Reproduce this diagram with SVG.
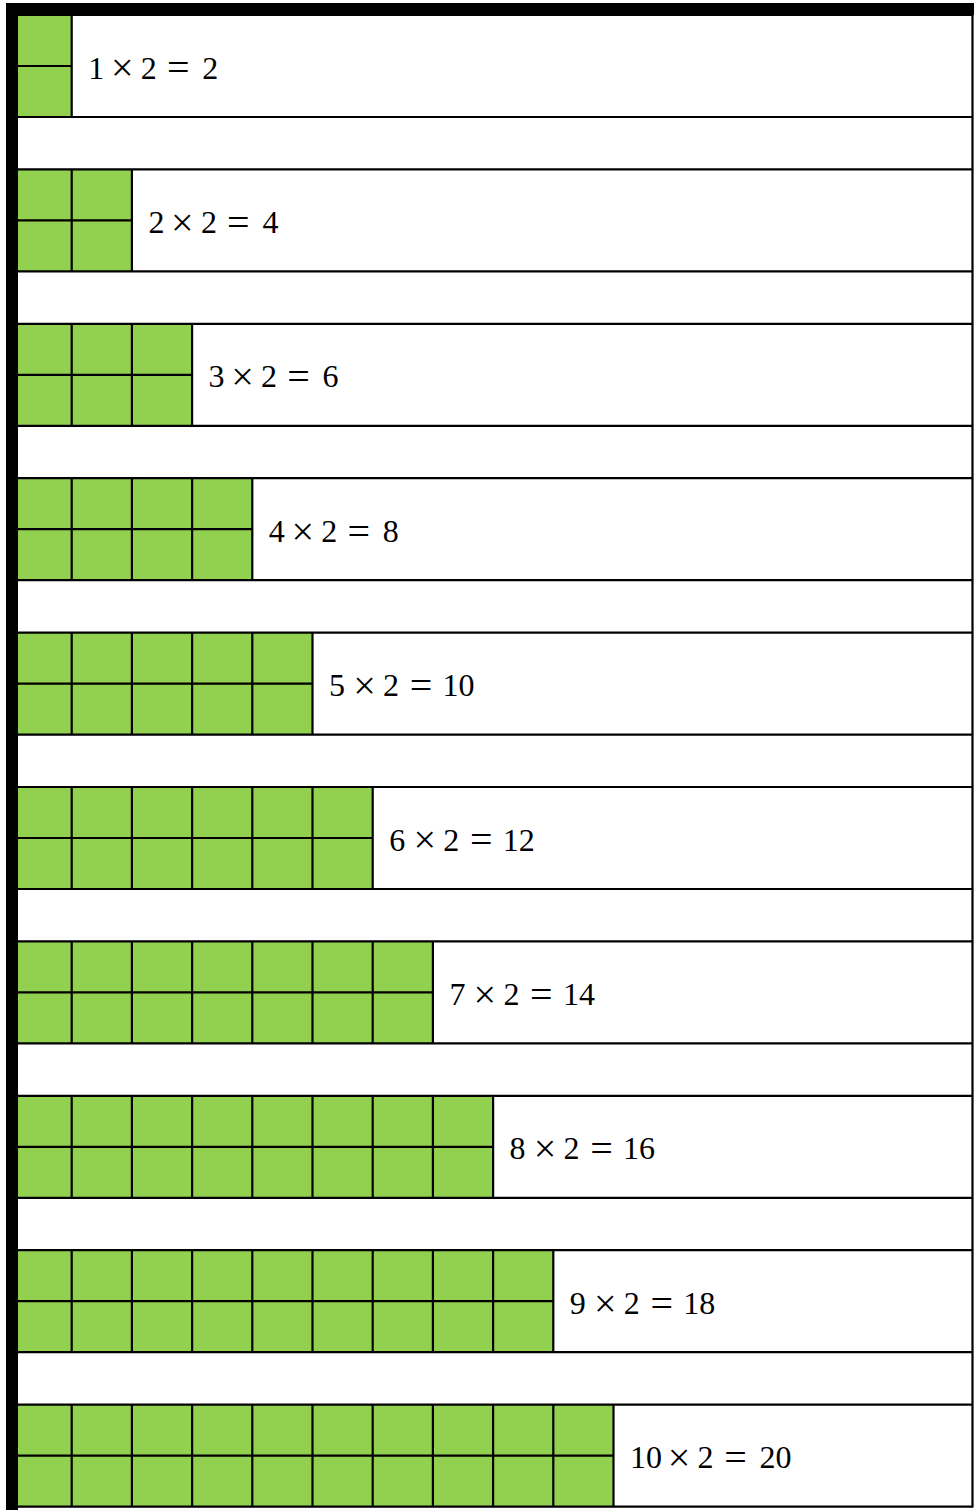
<svg xmlns="http://www.w3.org/2000/svg" width="974" height="1510" viewBox="0 0 974 1510">
<style>
.g{fill:#92D050}
.ln{stroke:#000;stroke-width:2.2;fill:none}
.t{font-family:"Liberation Serif","Times New Roman",serif;font-size:32px;fill:#000}
.c{text-anchor:middle}
.o{font-size:40px;text-anchor:middle}
</style>
<rect width="974" height="1510" fill="#fff"/>
<g id="frame">
<rect x="6" y="3" width="968" height="12" fill="#000"/>
<rect x="6" y="3" width="12" height="1507" fill="#000"/>
<path class="ln" d="M972.5 15V1507.6"/>
</g>
<g id="row1">
<rect class="g" x="18" y="15" width="53.7" height="102"/>
<path class="ln" d="M18 15H973M18 117H973M18 66H71.7M71.7 15V117"/>
<text class="t" y="78.5"><tspan x="88.2">1</tspan><tspan class="o" x="122.2" y="81.3">×</tspan><tspan class="c" x="148.7" y="78.5">2</tspan><tspan class="o" x="178.2" y="81.3">=</tspan><tspan x="202.2" y="78.5">2</tspan></text>
</g>
<g id="row2">
<rect class="g" x="18" y="169.4" width="113.9" height="102"/>
<path class="ln" d="M18 169.4H973M18 271.4H973M18 220.4H131.9M71.7 169.4V271.4M131.9 169.4V271.4"/>
<text class="t" y="232.9"><tspan x="148.4">2</tspan><tspan class="o" x="182.4" y="235.7">×</tspan><tspan class="c" x="208.9" y="232.9">2</tspan><tspan class="o" x="238.4" y="235.7">=</tspan><tspan x="262.4" y="232.9">4</tspan></text>
</g>
<g id="row3">
<rect class="g" x="18" y="323.8" width="174.1" height="102"/>
<path class="ln" d="M18 323.8H973M18 425.8H973M18 374.8H192.1M71.7 323.8V425.8M131.9 323.8V425.8M192.1 323.8V425.8"/>
<text class="t" y="387.3"><tspan x="208.6">3</tspan><tspan class="o" x="242.6" y="390.1">×</tspan><tspan class="c" x="269.1" y="387.3">2</tspan><tspan class="o" x="298.6" y="390.1">=</tspan><tspan x="322.6" y="387.3">6</tspan></text>
</g>
<g id="row4">
<rect class="g" x="18" y="478.2" width="234.3" height="102"/>
<path class="ln" d="M18 478.2H973M18 580.2H973M18 529.2H252.3M71.7 478.2V580.2M131.9 478.2V580.2M192.1 478.2V580.2M252.3 478.2V580.2"/>
<text class="t" y="541.7"><tspan x="268.8">4</tspan><tspan class="o" x="302.8" y="544.5">×</tspan><tspan class="c" x="329.3" y="541.7">2</tspan><tspan class="o" x="358.8" y="544.5">=</tspan><tspan x="382.8" y="541.7">8</tspan></text>
</g>
<g id="row5">
<rect class="g" x="18" y="632.6" width="294.5" height="102"/>
<path class="ln" d="M18 632.6H973M18 734.6H973M18 683.6H312.5M71.7 632.6V734.6M131.9 632.6V734.6M192.1 632.6V734.6M252.3 632.6V734.6M312.5 632.6V734.6"/>
<text class="t" y="696.1"><tspan x="329">5</tspan><tspan class="o" x="364.5" y="698.9">×</tspan><tspan class="c" x="391" y="696.1">2</tspan><tspan class="o" x="421" y="698.9">=</tspan><tspan x="442.5" y="696.1">10</tspan></text>
</g>
<g id="row6">
<rect class="g" x="18" y="787" width="354.7" height="102"/>
<path class="ln" d="M18 787H973M18 889H973M18 838H372.7M71.7 787V889M131.9 787V889M192.1 787V889M252.3 787V889M312.5 787V889M372.7 787V889"/>
<text class="t" y="850.5"><tspan x="389.2">6</tspan><tspan class="o" x="424.7" y="853.3">×</tspan><tspan class="c" x="451.2" y="850.5">2</tspan><tspan class="o" x="481.2" y="853.3">=</tspan><tspan x="502.7" y="850.5">12</tspan></text>
</g>
<g id="row7">
<rect class="g" x="18" y="941.4" width="414.9" height="102"/>
<path class="ln" d="M18 941.4H973M18 1043.4H973M18 992.4H432.9M71.7 941.4V1043.4M131.9 941.4V1043.4M192.1 941.4V1043.4M252.3 941.4V1043.4M312.5 941.4V1043.4M372.7 941.4V1043.4M432.9 941.4V1043.4"/>
<text class="t" y="1004.9"><tspan x="449.4">7</tspan><tspan class="o" x="484.9" y="1007.7">×</tspan><tspan class="c" x="511.4" y="1004.9">2</tspan><tspan class="o" x="541.4" y="1007.7">=</tspan><tspan x="562.9" y="1004.9">14</tspan></text>
</g>
<g id="row8">
<rect class="g" x="18" y="1095.8" width="475.1" height="102"/>
<path class="ln" d="M18 1095.8H973M18 1197.8H973M18 1146.8H493.1M71.7 1095.8V1197.8M131.9 1095.8V1197.8M192.1 1095.8V1197.8M252.3 1095.8V1197.8M312.5 1095.8V1197.8M372.7 1095.8V1197.8M432.9 1095.8V1197.8M493.1 1095.8V1197.8"/>
<text class="t" y="1159.3"><tspan x="509.6">8</tspan><tspan class="o" x="545.1" y="1162.1">×</tspan><tspan class="c" x="571.6" y="1159.3">2</tspan><tspan class="o" x="601.6" y="1162.1">=</tspan><tspan x="623.1" y="1159.3">16</tspan></text>
</g>
<g id="row9">
<rect class="g" x="18" y="1250.2" width="535.3" height="102"/>
<path class="ln" d="M18 1250.2H973M18 1352.2H973M18 1301.2H553.3M71.7 1250.2V1352.2M131.9 1250.2V1352.2M192.1 1250.2V1352.2M252.3 1250.2V1352.2M312.5 1250.2V1352.2M372.7 1250.2V1352.2M432.9 1250.2V1352.2M493.1 1250.2V1352.2M553.3 1250.2V1352.2"/>
<text class="t" y="1313.7"><tspan x="569.8">9</tspan><tspan class="o" x="605.3" y="1316.5">×</tspan><tspan class="c" x="631.8" y="1313.7">2</tspan><tspan class="o" x="661.8" y="1316.5">=</tspan><tspan x="683.3" y="1313.7">18</tspan></text>
</g>
<g id="row10">
<rect class="g" x="18" y="1404.6" width="595.5" height="102"/>
<path class="ln" d="M18 1404.6H973M18 1506.6H973M18 1455.6H613.5M71.7 1404.6V1506.6M131.9 1404.6V1506.6M192.1 1404.6V1506.6M252.3 1404.6V1506.6M312.5 1404.6V1506.6M372.7 1404.6V1506.6M432.9 1404.6V1506.6M493.1 1404.6V1506.6M553.3 1404.6V1506.6M613.5 1404.6V1506.6"/>
<text class="t" y="1468.1"><tspan x="630">10</tspan><tspan class="o" x="679" y="1470.9">×</tspan><tspan class="c" x="705.5" y="1468.1">2</tspan><tspan class="o" x="735.5" y="1470.9">=</tspan><tspan x="759.5" y="1468.1">20</tspan></text>
</g>
</svg>
